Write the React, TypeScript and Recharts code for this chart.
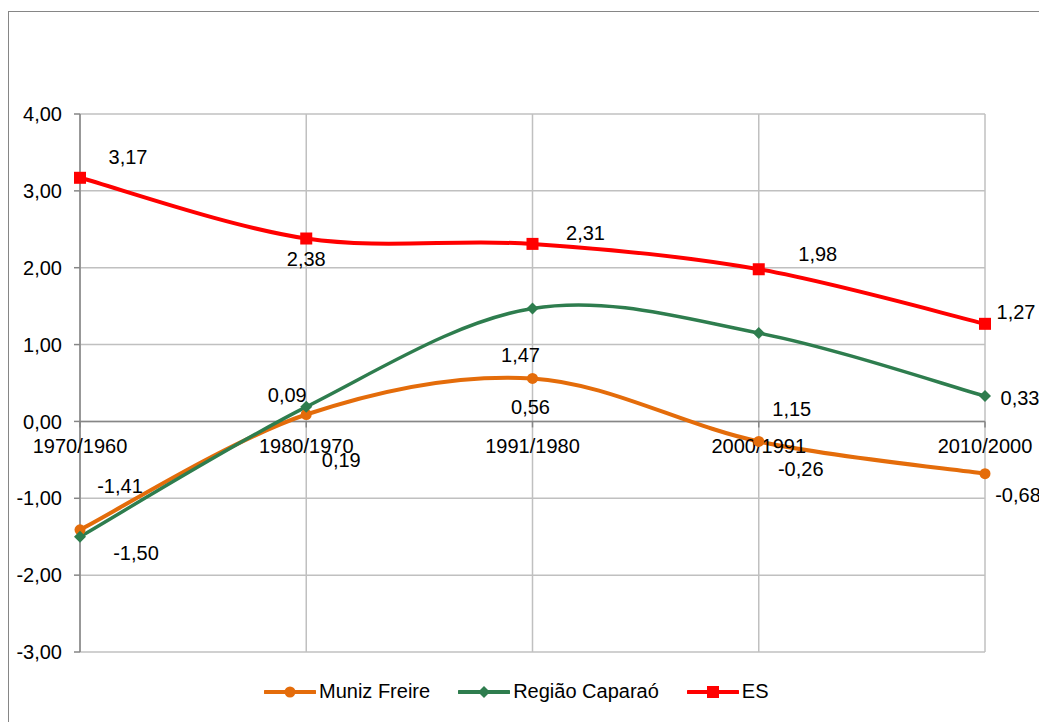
import React from 'react';
import {
  LineChart,
  Line,
  XAxis,
  YAxis,
  CartesianGrid,
  ReferenceLine,
  ReferenceDot,
  LabelList,
} from 'recharts';

// Growth rate per period (% a.a.)
const periods = ['1970/1960', '1980/1970', '1991/1980', '2000/1991', '2010/2000'];
const munizFreire = [-1.41, 0.09, 0.56, -0.26, -0.68];
const regiaoCaparao = [-1.5, 0.19, 1.47, 1.15, 0.33];
const es = [3.17, 2.38, 2.31, 1.98, 1.27];
const yTicks = [-3, -2, -1, 0, 1, 2, 3, 4];

// Hand-placed data label offsets (dx, dy) from each point
const munizLabelOffsets = [[40, -44], [-19, -20], [-2, 29], [42, 28], [33, 21]];
const caparaoLabelOffsets = [[56, 16], [35, 53], [-12, 47], [33, 76], [35, 2]];
const esLabelOffsets = [[48, -21], [0, 20], [53, -11], [59, -15], [31, -12]];

const ORANGE = '#E46C0A';
const GREEN = '#2E7D4E';
const RED = '#FF0000';
const AXIS = '#868686';
const GRID = '#C0C0C0';
const FONT = '"Liberation Sans", Arial, sans-serif';
const FS = 20;

const data = periods.map((p, i) => ({
  period: p,
  muniz: munizFreire[i],
  caparao: regiaoCaparao[i],
  es: es[i],
}));

const fmt = (v: number) => v.toFixed(2).replace('.', ',');

// Smoothed line like a spreadsheet "smoothed line": Catmull-Rom as cubic Béziers
function smoothCurve(context: any) {
  let pts: number[][] = [];
  return {
    areaStart() {},
    areaEnd() {},
    lineStart() {
      pts = [];
    },
    point(x: number, y: number) {
      pts.push([+x, +y]);
    },
    lineEnd() {
      if (!pts.length) return;
      context.moveTo(pts[0][0], pts[0][1]);
      for (let i = 0; i < pts.length - 1; i++) {
        const p0 = pts[i - 1] || pts[i];
        const p1 = pts[i];
        const p2 = pts[i + 1];
        const p3 = pts[i + 2] || pts[i + 1];
        context.bezierCurveTo(
          p1[0] + (p2[0] - p0[0]) / 6,
          p1[1] + (p2[1] - p0[1]) / 6,
          p2[0] - (p3[0] - p1[0]) / 6,
          p2[1] - (p3[1] - p1[1]) / 6,
          p2[0],
          p2[1]
        );
      }
    },
  };
}

const makeLabel = (values: number[], offsets: number[][]) => (props: any) => {
  const { x, y, value } = props;
  let idx = props.index;
  if (idx === undefined || idx === null) idx = values.indexOf(value);
  const off = offsets[idx] || [0, 0];
  return (
    <text
      x={x + off[0]}
      y={y + off[1]}
      textAnchor="middle"
      dominantBaseline="central"
      fontFamily={FONT}
      fontSize={FS}
      fill="#000"
    >
      {fmt(value)}
    </text>
  );
};

const CircleDot = (props: any) => {
  const { cx, cy } = props;
  if (cx == null || cy == null) return null;
  return <circle cx={cx} cy={cy} r={5.5} fill={ORANGE} />;
};
const DiamondDot = (props: any) => {
  const { cx, cy } = props;
  if (cx == null || cy == null) return null;
  const s = 6;
  return <path d={`M${cx},${cy - s}L${cx + s},${cy}L${cx},${cy + s}L${cx - s},${cy}Z`} fill={GREEN} />;
};
const SquareDot = (props: any) => {
  const { cx, cy } = props;
  if (cx == null || cy == null) return null;
  return <rect x={cx - 6} y={cy - 6} width={12} height={12} fill={RED} />;
};

const CategoryTick = (label: string) => (props: any) => {
  const { cx, cy } = props;
  return (
    <g>
      <line x1={cx} y1={cy} x2={cx} y2={cy + 6} stroke={AXIS} strokeWidth={1.5} />
      <text
        x={cx}
        y={cy + 25}
        textAnchor="middle"
        dominantBaseline="central"
        fontFamily={FONT}
        fontSize={FS}
        fill="#000"
      >
        {label}
      </text>
    </g>
  );
};

const legendItems = [
  { name: 'Muniz Freire', color: ORANGE, marker: 'circle' },
  { name: 'Região Caparaó', color: GREEN, marker: 'diamond' },
  { name: 'ES', color: RED, marker: 'square' },
];

const LegendIcon = ({ color, marker }: { color: string; marker: string }) => (
  <svg width={52} height={16} style={{ display: 'block' }}>
    <line x1={1} y1={8} x2={51} y2={8} stroke={color} strokeWidth={4} strokeLinecap="round" />
    {marker === 'circle' && <circle cx={26} cy={8} r={5.5} fill={color} />}
    {marker === 'diamond' && <path d="M26,2L32,8L26,14L20,8Z" fill={color} />}
    {marker === 'square' && <rect x={20} y={2} width={12} height={12} fill={color} />}
  </svg>
);

export default function App() {
  return (
    <div
      style={{
        position: 'absolute',
        left: 0,
        top: 0,
        width: 1039,
        height: 722,
        overflow: 'hidden',
        background: '#fff',
        fontFamily: FONT,
      }}
    >
      <div
        style={{
          position: 'absolute',
          left: 8,
          top: 11,
          width: 1200,
          height: 900,
          border: `1.5px solid ${AXIS}`,
          boxSizing: 'border-box',
        }}
      />
      <div style={{ position: 'absolute', left: 0, top: 0 }}>
        <LineChart
          width={1039}
          height={722}
          data={data}
          margin={{ top: 114, right: 54, bottom: 70, left: 0 }}
        >
          <CartesianGrid stroke={GRID} strokeWidth={1.5} vertical horizontal />
          <XAxis dataKey="period" hide />
          <YAxis
            type="number"
            domain={[-3, 4]}
            ticks={yTicks}
            interval={0}
            width={80}
            tickFormatter={fmt}
            axisLine={{ stroke: AXIS, strokeWidth: 1.5 }}
            tickLine={{ stroke: AXIS, strokeWidth: 1.5 }}
            tickSize={6}
            tickMargin={12}
            tick={{ fill: '#000', fontSize: FS, fontFamily: FONT }}
          />
          <ReferenceLine y={0} stroke={AXIS} strokeWidth={1.5} />
          {periods.map((p) => (
            <ReferenceDot key={p} x={p} y={0} r={0} shape={CategoryTick(p)} />
          ))}
          <Line
            dataKey="muniz"
            name="Muniz Freire"
            type={smoothCurve as any}
            stroke={ORANGE}
            strokeWidth={4}
            dot={<CircleDot />}
            activeDot={false}
            isAnimationActive={false}
          >
            <LabelList dataKey="muniz" content={makeLabel(munizFreire, munizLabelOffsets)} />
          </Line>
          <Line
            dataKey="caparao"
            name="Região Caparaó"
            type={smoothCurve as any}
            stroke={GREEN}
            strokeWidth={3.5}
            dot={<DiamondDot />}
            activeDot={false}
            isAnimationActive={false}
          >
            <LabelList dataKey="caparao" content={makeLabel(regiaoCaparao, caparaoLabelOffsets)} />
          </Line>
          <Line
            dataKey="es"
            name="ES"
            type={smoothCurve as any}
            stroke={RED}
            strokeWidth={4}
            dot={<SquareDot />}
            activeDot={false}
            isAnimationActive={false}
          >
            <LabelList dataKey="es" content={makeLabel(es, esLabelOffsets)} />
          </Line>
        </LineChart>
      </div>
      <div
        style={{
          position: 'absolute',
          left: 264,
          top: 680,
          display: 'flex',
          alignItems: 'center',
          gap: 28,
          fontSize: FS,
          color: '#000',
          whiteSpace: 'nowrap',
        }}
      >
        {legendItems.map((it) => (
          <div key={it.name} style={{ display: 'flex', alignItems: 'center', gap: 3 }}>
            <LegendIcon color={it.color} marker={it.marker} />
            <span>{it.name}</span>
          </div>
        ))}
      </div>
    </div>
  );
}
